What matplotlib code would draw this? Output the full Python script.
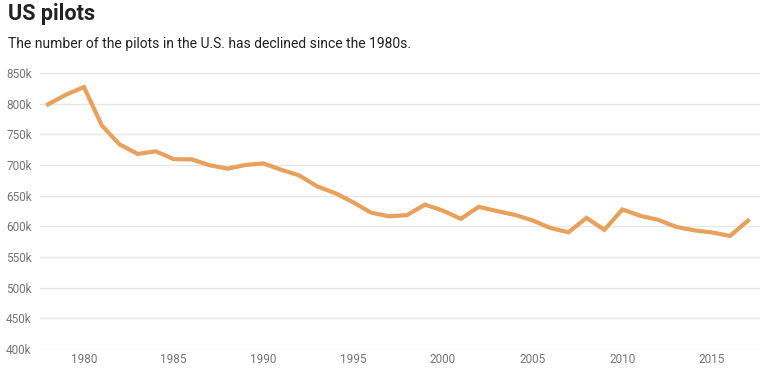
import matplotlib
matplotlib.use('Agg')
import matplotlib.pyplot as plt
from matplotlib.ticker import FuncFormatter

years = list(range(1978, 2018))
pilots = [798833, 814667, 827071, 764182, 733255, 718004, 722376, 709540,
          709118, 699653, 694016, 700010, 702659, 692095, 682959, 665069,
          654088, 639184, 622261, 616342, 618298, 635472, 625581, 612274,
          631762, 625011, 618633, 609737, 597109, 590349, 613746, 594285,
          627588, 617128, 610576, 599086, 593499, 590039, 584362, 609306]
x_ticks = [1980, 1985, 1990, 1995, 2000, 2005, 2010, 2015]
y_ticks = list(range(400000, 850001, 50000))

plt.rcParams['font.family'] = ['Roboto', 'DejaVu Sans']

fig = plt.figure(figsize=(7.6, 3.78), dpi=100)
ax = fig.add_axes([40 / 760, 29 / 378, 720 / 760, 276 / 378])

ax.plot(years, pilots, color='#E9A05A', linewidth=3, solid_joinstyle='miter',
        clip_on=False, zorder=3)

ax.set_xlim(1977.55, 2017.67)
ax.set_ylim(400000, 850000)
ax.set_xticks(x_ticks)
ax.set_yticks(y_ticks)
ax.yaxis.set_major_formatter(FuncFormatter(lambda v, p: '{}k'.format(int(v / 1000))))

ax.grid(True, axis='y', color='#e6e6e6', linewidth=1)
ax.set_axisbelow(True)
for s in ax.spines.values():
    s.set_visible(False)
ax.tick_params(axis='both', length=0, labelsize=8.5, colors='#757575')
ax.tick_params(axis='y', pad=6)
ax.tick_params(axis='x', pad=3)

fig.text(8 / 760, 1 - 3 / 378, 'US pilots', fontsize=15.5, fontweight='bold',
         color='#222222', va='top', ha='left')
fig.text(8 / 760, 1 - 37 / 378, 'The number of the pilots in the U.S. has declined since the 1980s.',
         fontsize=10, color='#222222', va='top', ha='left')

fig.savefig('out.png', dpi=100)
